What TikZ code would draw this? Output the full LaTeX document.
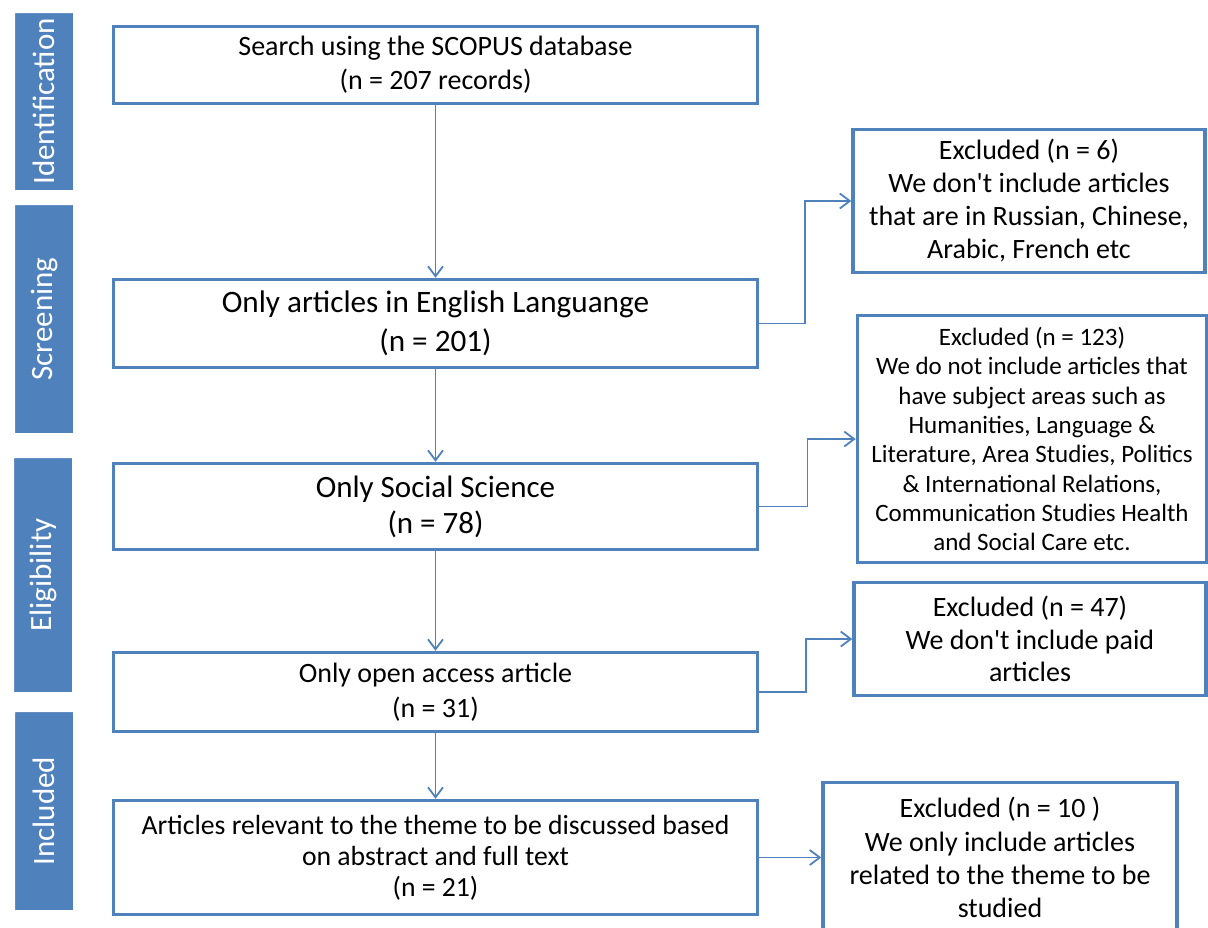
\documentclass[tikz,border=0pt]{standalone}
\usepackage{fontspec}
\setmainfont{Carlito}[Ligatures=TeXOff]
\usetikzlibrary{shapes,arrows,arrows.meta}
\usetikzlibrary{fit,calc,positioning,shadows}
\definecolor{prismablue}{RGB}{79,129,189}
\tikzstyle{stagebar} = [rectangle,fill=prismablue,draw=white,line width=5pt,rounded corners=1pt,text=white,inner sep=0pt,minimum height=63pt,rotate=90,font=\fontsize{31}{36}\selectfont,drop shadow={opacity=0.25,shadow xshift=1pt,shadow yshift=-2pt}]
\tikzstyle{mainbox} = [rectangle,draw=prismablue,line width=3.5pt,minimum width=644pt,align=center,inner sep=0pt]
\tikzstyle{exbox} = [rectangle,draw=prismablue,line width=3.5pt,minimum width=352pt,align=center,inner sep=0pt]
\tikzstyle{flow} = [draw=prismablue,line width=1.8pt,-{Straight Barb[length=10pt,width=15pt]}]

\begin{document}
\begin{tikzpicture}[node distance = 183pt]

\useasboundingbox (0,0) rectangle (1208pt,-927pt);

% stages
\node (ident) [stagebar,minimum width=182pt] at (44pt,-101.5pt) {Identification};
\node (screen) [stagebar,minimum width=233pt] at (44pt,-319pt) {Screening};
\node (elig) [stagebar,minimum width=239pt] at (43pt,-575pt) {Eligibility};
\node (incl) [stagebar,minimum width=203pt] at (44pt,-811pt) {Included};

% main flow
\node (box1) [mainbox,minimum height=77pt,font=\fontsize{28}{34}\selectfont] at (435.5pt,-65pt) {Search using the SCOPUS database\\(n = 207 records)};
\node (box2) [mainbox,minimum height=88pt,font=\fontsize{31.2}{39}\selectfont,below of=box1,yshift=-75.5pt] {Only articles in English Languange\\(n = 201)};
\node (box3) [mainbox,minimum height=86pt,font=\fontsize{31}{36}\selectfont,below of=box2] {Only Social Science\\(n = 78)};
\node (box4) [mainbox,minimum height=79pt,font=\fontsize{28}{35}\selectfont,below of=box3,yshift=-2.5pt] {Only open access article\\(n = 31)};
\node (box5) [mainbox,minimum height=114pt,font=\fontsize{27.7}{31}\selectfont,below of=box4,yshift=17.5pt] {Articles relevant to the theme to be discussed based\\on abstract and full text\\(n = 21)};

% excluded
\node (ex1) [exbox,minimum height=143pt,font=\fontsize{28}{33}\selectfont,right of=box2,xshift=410.5pt,yshift=122.5pt] {Excluded (n = 6)\\We don't include articles\\that are in Russian, Chinese,\\Arabic, French etc};
\node (ex2) [exbox,minimum width=349pt,minimum height=247pt,font=\fontsize{25}{29.3}\selectfont,right of=box3,xshift=413.5pt,yshift=67.5pt] {Excluded (n = 123)\\We do not include articles that\\have subject areas such as\\Humanities, Language \&\\Literature, Area Studies, Politics\\\& International Relations,\\Communication Studies Health\\and Social Care etc.};
\node (ex3) [exbox,minimum height=113pt,font=\fontsize{28}{32.5}\selectfont,right of=box4,xshift=411.5pt,yshift=53pt] {Excluded (n = 47)\\We don't include paid\\articles};
\node (ex4) [exbox,minimum width=354pt,minimum height=150pt,font=\fontsize{28}{33.3}\selectfont,right of=box5,xshift=381.5pt] {Excluded (n = 10 )\\We only include articles\\related to the theme to be\\studied};

\draw[flow] (box1) -- (box2);
\draw[flow] (box2) -- (box3);
\draw[flow] (box3) -- (box4);
\draw[flow] (box4) -- (box5);
\draw[flow] (box2.east) -| ($(box2.east)!0.5!(ex1.west)$) |- (ex1.west);
\draw[flow] (box3.east) -| ($(box3.east)!0.5!(ex2.west)$) |- (ex2.west);
\draw[flow] (box4.east) -| ($(box4.east)!0.5!(ex3.west)$) |- (ex3.west);
\draw[flow] (box5) -- (ex4);

\end{tikzpicture}
\end{document}
